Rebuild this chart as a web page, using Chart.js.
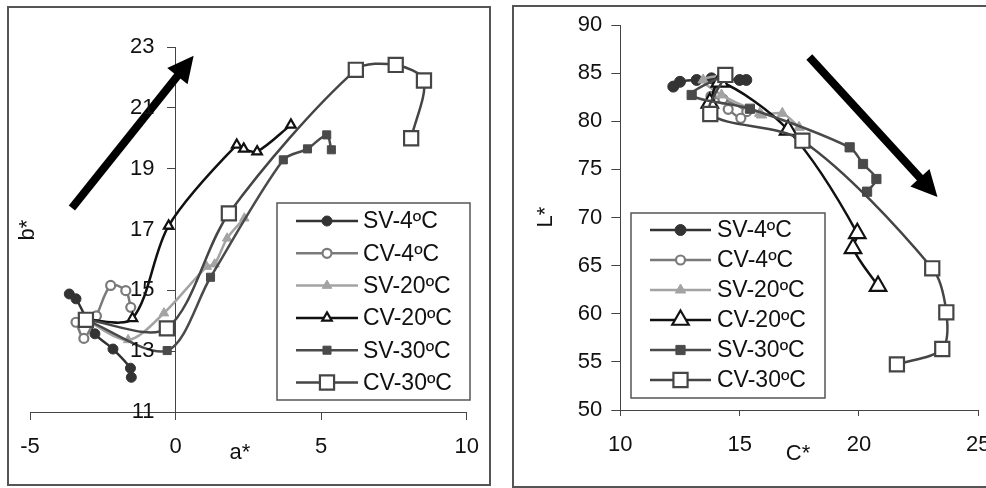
<!DOCTYPE html>
<html>
<head>
<meta charset="utf-8">
<script src="https://cdn.jsdelivr.net/npm/chart.js@4.4.1/dist/chart.umd.min.js"></script>
<style>
html, body { margin: 0; padding: 0; background: #fff; overflow: hidden; width: 986px; height: 488px; }
.panel { position: absolute; border: 2px solid #555; box-sizing: border-box; }
canvas { position: absolute; }
</style>
</head>
<body>
<div class="panel" style="left:7px;top:6px;width:484px;height:480px"></div>
<div class="panel" style="left:512px;top:5px;width:530px;height:483px"></div>
<canvas id="abChart" width="493" height="488" style="left:0;top:0"></canvas>
<canvas id="lcChart" width="520" height="488" style="left:493px;top:0"></canvas>
<script>
// series names (legend order)
const seriesNames = ['SV-4ºC', 'CV-4ºC', 'SV-20ºC', 'CV-20ºC', 'SV-30ºC', 'CV-30ºC'];

// left chart: a* vs b*
const sv4A  = [-3.65, -3.42, -2.77, -2.15, -1.55, -1.52];
const sv4B  = [14.88, 14.72, 13.57, 13.07, 12.44, 12.14];
const cv4A  = [-3.42, -3.15, -2.72, -2.23, -1.71, -1.54];
const cv4B  = [13.95, 13.42, 14.16, 15.16, 14.99, 14.44];
const sv20A = [-3.08, -1.63, -0.40, 1.07, 1.34, 1.77, 2.36];
const sv20B = [14.03, 13.37, 14.25, 15.78, 15.86, 16.71, 17.37];
const cv20A = [-3.08, -1.48, -0.24, 2.10, 2.34, 2.80, 3.96];
const cv20B = [14.03, 14.08, 17.12, 19.78, 19.65, 19.56, 20.44];
const sv30A = [-3.08, -0.29, 1.20, 3.70, 4.53, 5.19, 5.35];
const sv30B = [14.03, 13.02, 15.43, 19.29, 19.65, 20.11, 19.62];
const cv30A = [-3.08, -0.30, 1.83, 6.19, 7.56, 8.53, 8.09];
const cv30B = [14.03, 13.75, 17.53, 22.25, 22.41, 21.90, 20.00];

// right chart: C* vs L*
const sv4C  = [15.28, 15.00, 13.82, 13.20, 12.50, 12.22];
const sv4L  = [84.29, 84.29, 84.46, 84.29, 84.10, 83.60];
const cv4C  = [14.36, 13.80, 14.30, 15.30, 15.05, 14.52];
const cv4L  = [84.40, 82.60, 82.30, 81.00, 80.31, 81.24];
const sv20C = [14.36, 13.47, 14.24, 15.84, 15.92, 16.79, 17.49];
const sv20L = [84.80, 84.29, 82.73, 80.82, 80.65, 80.82, 79.37];
const cv20C = [13.75, 14.17, 17.03, 19.93, 19.75, 20.80];
const cv20L = [81.90, 84.10, 79.09, 68.36, 66.80, 62.88];
const sv30C = [14.36, 12.99, 15.43, 19.61, 20.17, 20.73, 20.34];
const sv30L = [84.80, 82.73, 81.30, 77.29, 75.56, 74.00, 72.68];
const cv30C = [14.40, 13.77, 17.63, 23.07, 23.66, 23.49, 21.59];
const cv30L = [84.81, 80.75, 77.98, 64.72, 60.15, 56.34, 54.74];

// series look
const lineColors  = ['#333333', '#7a7a7a', '#a3a3a3', '#111111', '#4a4a4a', '#454545'];
const pointFills  = ['#333333', '#ffffff', '#a3a3a3', '#ffffff', '#4a4a4a', '#ffffff'];
const pointShapes = ['circle', 'circle', 'triangle', 'triangle', 'rect', 'rect'];
const abRadius = [5, 4.5, 5.5, 5.5, 5.7, 10];
const lcRadius = [5.5, 4.5, 6, 9.5, 6.5, 10];

const FONT = '"Liberation Sans", Arial, sans-serif';
const INK = '#111';
Chart.defaults.font.family = FONT;
Chart.defaults.font.size = 22;
Chart.defaults.color = INK;

function makeDatasets(xs, ys, radii) {
    return seriesNames.map((name, i) => ({
        label: name,
        data: xs[i].map((x, j) => ({ x: x, y: ys[i][j] })),
        showLine: true,
        borderColor: lineColors[i],
        borderWidth: 2.5,
        backgroundColor: pointFills[i],
        pointBackgroundColor: pointFills[i],
        pointBorderColor: lineColors[i],
        pointBorderWidth: pointFills[i] === '#ffffff' ? 2.2 : 1,
        pointRadius: radii[i],
        pointStyle: pointShapes[i],
        tension: 0.3,
        order: 5 - i
    }));
}

function drawMarker(ctx, shape, x, y, r, fill, stroke, bw) {
    ctx.beginPath();
    if (shape === 'circle') {
        ctx.arc(x, y, r, 0, Math.PI * 2);
    } else if (shape === 'triangle') {
        for (let k = 0; k < 3; k++) {
            const a = k * 2 * Math.PI / 3;
            const px = x + Math.sin(a) * r, py = y - Math.cos(a) * r;
            if (k === 0) ctx.moveTo(px, py); else ctx.lineTo(px, py);
        }
        ctx.closePath();
    } else {
        const s = r * Math.SQRT1_2;
        ctx.rect(x - s, y - s, 2 * s, 2 * s);
    }
    ctx.fillStyle = fill;
    ctx.fill();
    ctx.lineWidth = bw;
    ctx.strokeStyle = stroke;
    ctx.stroke();
}

// legend in a box, built from the datasets
const boxLegend = {
    id: 'boxLegend',
    afterDraw(chart, args, o) {
        const ctx = chart.ctx;
        ctx.save();
        ctx.fillStyle = '#fff';
        ctx.fillRect(o.x, o.y, o.w, o.h);
        ctx.strokeStyle = '#555';
        ctx.lineWidth = 1.5;
        ctx.strokeRect(o.x, o.y, o.w, o.h);
        chart.data.datasets.forEach((ds, i) => {
            const y = o.y + o.first + i * o.step;
            ctx.beginPath();
            ctx.moveTo(o.lineX, y);
            ctx.lineTo(o.lineX + o.lineLen, y);
            ctx.strokeStyle = ds.borderColor;
            ctx.lineWidth = ds.borderWidth;
            ctx.stroke();
            drawMarker(ctx, ds.pointStyle, o.lineX + o.lineLen / 2, y, ds.pointRadius,
                ds.pointBackgroundColor, ds.pointBorderColor, ds.pointBorderWidth);
            ctx.fillStyle = INK;
            ctx.font = '23px ' + FONT;
            ctx.textAlign = 'left';
            ctx.textBaseline = 'middle';
            ctx.fillText(ds.label, o.textX, y + 1);
        });
        ctx.restore();
    }
};

// thick trend arrow, given in data units
const trendArrow = {
    id: 'trendArrow',
    afterDatasetsDraw(chart, args, o) {
        const xs = chart.scales.x, ys = chart.scales.y, ctx = chart.ctx;
        const x0 = xs.getPixelForValue(o.from[0]), y0 = ys.getPixelForValue(o.from[1]);
        const x1 = xs.getPixelForValue(o.to[0]), y1 = ys.getPixelForValue(o.to[1]);
        const len = Math.hypot(x1 - x0, y1 - y0);
        const ux = (x1 - x0) / len, uy = (y1 - y0) / len;
        const bx = x1 - ux * o.head, by = y1 - uy * o.head;
        ctx.save();
        ctx.strokeStyle = '#000';
        ctx.lineWidth = o.width;
        ctx.beginPath();
        ctx.moveTo(x0, y0);
        ctx.lineTo(bx + ux * 2, by + uy * 2);
        ctx.stroke();
        ctx.fillStyle = '#000';
        ctx.beginPath();
        ctx.moveTo(x1, y1);
        ctx.lineTo(bx - uy * o.half, by + ux * o.half);
        ctx.lineTo(bx + uy * o.half, by - ux * o.half);
        ctx.closePath();
        ctx.fill();
        ctx.restore();
    }
};

// axis titles
const axisTitles = {
    id: 'axisTitles',
    afterDraw(chart, args, o) {
        const ctx = chart.ctx;
        o.items.forEach(t => {
            ctx.save();
            ctx.translate(t.x, t.y);
            ctx.rotate(t.rot || 0);
            ctx.font = '22px ' + FONT;
            ctx.fillStyle = INK;
            ctx.textAlign = 'center';
            ctx.textBaseline = 'middle';
            ctx.fillText(t.text, 0, 0);
            ctx.restore();
        });
    }
};

// tick labels for a y axis that crosses at x = 0
const crossLabels = {
    id: 'crossLabels',
    afterDraw(chart, args, o) {
        if (!o.enabled) return;
        const ctx = chart.ctx, ys = chart.scales.y, xs = chart.scales.x;
        const ax = xs.getPixelForValue(0);
        ctx.save();
        ctx.font = '22px ' + FONT;
        ctx.fillStyle = INK;
        ctx.textAlign = 'right';
        ctx.textBaseline = 'middle';
        ys.ticks.forEach(t => {
            ctx.fillText(t.label, ax - o.offset, ys.getPixelForValue(t.value));
        });
        ctx.restore();
    }
};

const axisGrid = { drawOnChartArea: false, drawTicks: true, color: '#444', lineWidth: 1 };

new Chart(document.getElementById('abChart'), {
    type: 'scatter',
    data: { datasets: makeDatasets([sv4A, cv4A, sv20A, cv20A, sv30A, cv30A],
                                   [sv4B, cv4B, sv20B, cv20B, sv30B, cv30B], abRadius) },
    options: {
        responsive: false,
        animation: false,
        layout: { padding: { left: 30, right: 25, top: 47, bottom: 0 } },
        scales: {
            x: {
                type: 'linear', min: -5, max: 10, position: 'bottom',
                ticks: { stepSize: 5, padding: 14 },
                grid: Object.assign({ tickLength: 8 }, axisGrid),
                border: { color: '#444', width: 1 },
                afterFit: s => { s.height = 76; }
            },
            y: {
                type: 'linear', min: 11, max: 23, position: { x: 0 },
                ticks: { stepSize: 2, display: false },
                grid: Object.assign({ tickLength: 8 }, axisGrid),
                border: { color: '#444', width: 1 }
            }
        },
        plugins: {
            legend: { display: false },
            tooltip: { enabled: false },
            crossLabels: { enabled: true, offset: 21 },
            trendArrow: { from: [-3.56, 17.71], to: [0.62, 22.71], width: 8, head: 26, half: 13 },
            boxLegend: { x: 277, y: 203, w: 193, h: 197, first: 18, step: 32.3, lineX: 296, lineLen: 62, textX: 363 },
            axisTitles: { items: [
                { text: 'a*', x: 240, y: 453 },
                { text: 'b*', x: 28, y: 230, rot: -Math.PI / 2 }
            ] }
        }
    },
    plugins: [crossLabels, trendArrow, boxLegend, axisTitles]
});

new Chart(document.getElementById('lcChart'), {
    type: 'scatter',
    data: { datasets: makeDatasets([sv4C, cv4C, sv20C, cv20C, sv30C, cv30C],
                                   [sv4L, cv4L, sv20L, cv20L, sv30L, cv30L], lcRadius) },
    options: {
        responsive: false,
        animation: false,
        layout: { padding: { left: 0, right: 34.7, top: 25, bottom: 0 } },
        scales: {
            x: {
                type: 'linear', min: 10, max: 25, position: 'bottom',
                ticks: { stepSize: 5, padding: 16 },
                grid: Object.assign({ tickLength: 6 }, axisGrid),
                border: { color: '#444', width: 1 },
                afterFit: s => { s.height = 78; }
            },
            y: {
                type: 'linear', min: 50, max: 90, position: 'left',
                ticks: { stepSize: 5, padding: 9 },
                grid: Object.assign({ tickLength: 9 }, axisGrid),
                border: { color: '#444', width: 1 },
                afterFit: s => { s.width = 127.3; }
            }
        },
        plugins: {
            legend: { display: false },
            tooltip: { enabled: false },
            crossLabels: { enabled: false },
            trendArrow: { from: [17.92, 86.68], to: [23.29, 72.13], width: 8, head: 26, half: 13 },
            boxLegend: { x: 138, y: 213, w: 194, h: 185, first: 17, step: 30, lineX: 157, lineLen: 61, textX: 224 },
            axisTitles: { items: [
                { text: 'C*', x: 305, y: 454 },
                { text: 'L*', x: 53, y: 217, rot: -Math.PI / 2 }
            ] }
        }
    },
    plugins: [crossLabels, trendArrow, boxLegend, axisTitles]
});
</script>
</body>
</html>
